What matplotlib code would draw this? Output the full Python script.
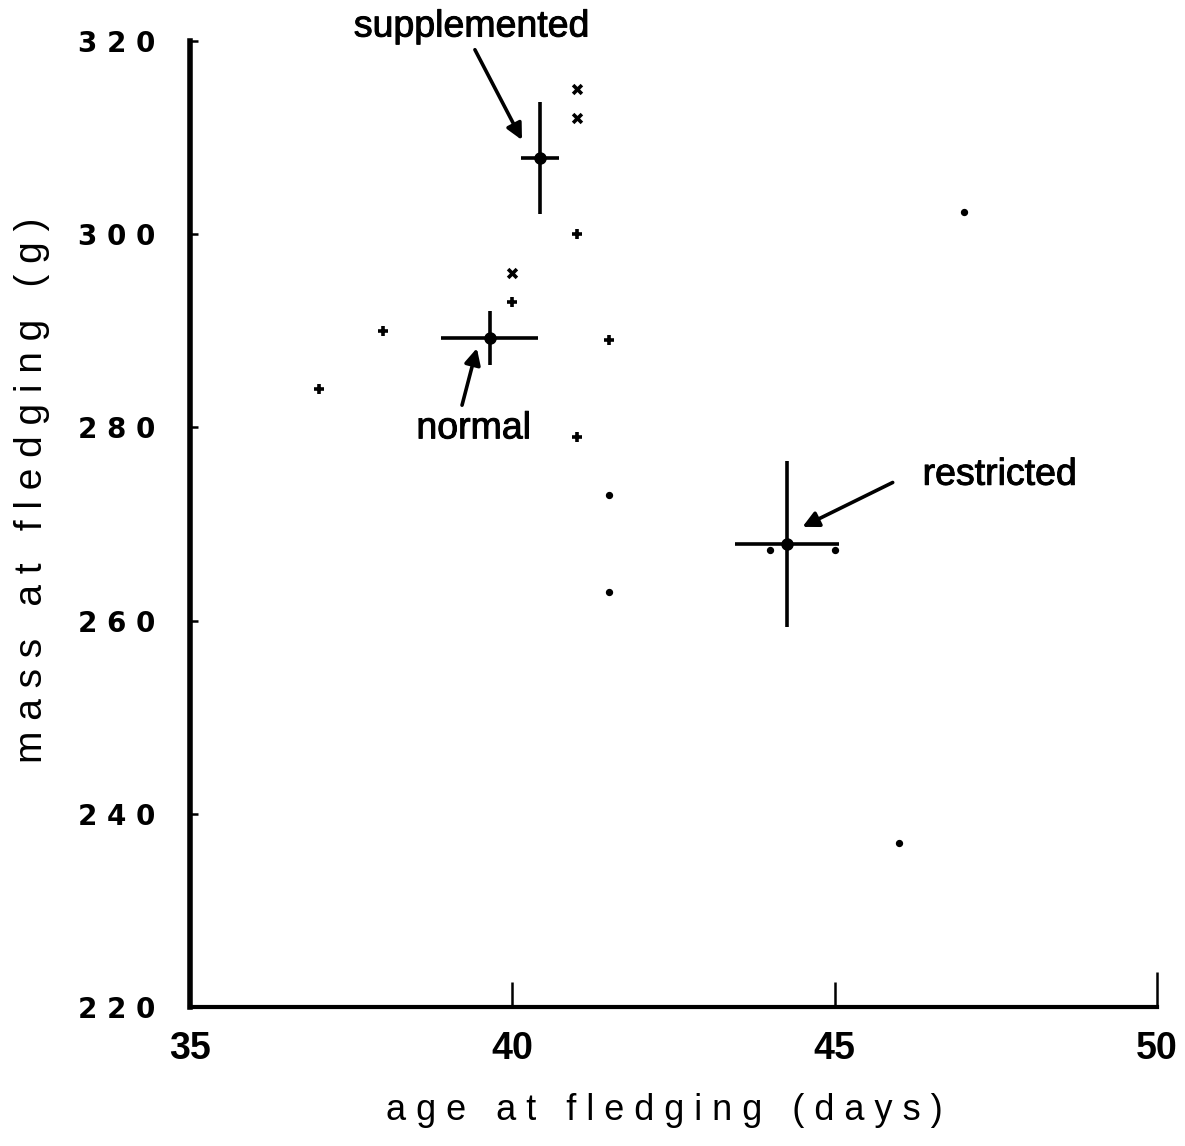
import numpy as np
import matplotlib.pyplot as plt
import matplotlib.patheffects as pe
from matplotlib.ticker import FuncFormatter

# individual chicks
supp_age = [41, 41, 40]
supp_mass = [315, 312, 296]

norm_age = [41, 40, 38, 37, 41.5, 41]
norm_mass = [300, 293, 290, 284, 289, 279]

restr_age = [41.5, 41.5, 44, 45, 47, 46]
restr_mass = [273, 263, 267.3, 267.3, 302.3, 237]

# group means with error bars (x err, y err)
mean_age = [40.43, 39.65, 44.26]
mean_mass = [307.9, 289.3, 267.9]
age_err = [0.3, 0.75, 0.8]
mass_err = [5.8, 2.8, 8.6]
group_names = ["supplemented", "normal", "restricted"]

# label text centres and arrow (tail, head), in data units
label_pos = [(39.37, 321.5), (39.4, 279.9), (47.56, 275.1)]
arrow_tail = [(39.42, 319.1), (39.22, 282.3), (45.9, 274.3)]
arrow_head = [(40.15, 309.75), (39.45, 288.2), (44.5, 269.7)]

plt.rcParams['font.family'] = ['Liberation Sans', 'DejaVu Sans']

fig = plt.figure(figsize=(11.85, 11.46), dpi=100)
ax = fig.add_axes([0.1603, 0.1213, 0.8161, 0.8429])

ax.scatter(supp_age, supp_mass, marker='x', s=40, color='black', linewidths=2.6)
ax.scatter(norm_age, norm_mass, marker='+', s=60, color='black', linewidths=2.6)
ax.scatter(restr_age, restr_mass, marker='o', s=18, color='black')

ax.errorbar(mean_age, mean_mass, xerr=age_err, yerr=mass_err, fmt='o',
            color='black', ms=8, elinewidth=2.6, capsize=0)

thick = [pe.withStroke(linewidth=0.7, foreground='black')]
for name, lp, tail, head in zip(group_names, label_pos, arrow_tail, arrow_head):
    ax.text(lp[0], lp[1], name, ha='center', va='center', fontsize=27,
            clip_on=False, path_effects=thick)
    ax.annotate("", xy=head, xytext=tail, annotation_clip=False,
                arrowprops=dict(arrowstyle='-|>', color='black', lw=2.6,
                                mutation_scale=24, shrinkA=0, shrinkB=0))

ax.set_xlim(35, 50)
ax.set_ylim(220, 320)
ax.set_xticks([35, 40, 45, 50])
ax.set_yticks([220, 240, 260, 280, 300, 320])

ax.spines['top'].set_visible(False)
ax.spines['right'].set_visible(False)
ax.spines['left'].set_linewidth(4)
ax.spines['bottom'].set_linewidth(3)

ax.tick_params(axis='both', direction='in', width=1.8, color='black')
ax.tick_params(axis='x', length=18, pad=17)
ax.tick_params(axis='y', length=6, pad=25)
ax.xaxis.get_major_ticks()[-1].tick1line.set_markersize(25)
ax.yaxis.set_major_formatter(FuncFormatter(lambda v, p: " ".join(f"{v:.0f}")))
for lab in ax.get_xticklabels():
    lab.set_fontweight('bold')
    lab.set_fontsize(27)
for lab in ax.get_yticklabels():
    lab.set_fontfamily(['DejaVu Sans'])
    lab.set_fontweight('bold')
    lab.set_fontsize(20)

ax.set_xlabel(" ".join("age at fledging (days)"), fontsize=26)
ax.set_ylabel(" ".join("mass at fledging (g)"), fontsize=28)
ax.xaxis.set_label_coords(0.491, -0.089)
ax.yaxis.set_label_coords(-0.145, 0.535)

fig.savefig("out.png", dpi=100)
